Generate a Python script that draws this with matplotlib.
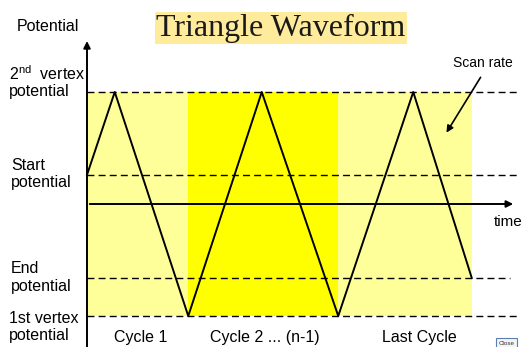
import matplotlib
matplotlib.use("Agg")
import matplotlib.pyplot as plt

plt.rcParams['font.family'] = ['Liberation Sans', 'DejaVu Sans']
plt.rcParams['mathtext.fontset'] = 'custom'
plt.rcParams['mathtext.rm'] = 'Liberation Sans'

# potential levels (2nd vertex = +1, 1st vertex = -1)
levels = {'vertex2': 1.0, 'start': 0.26, 'end': -0.66, 'vertex1': -1.0}

# triangle wave corners (time, potential)
wave_t = [0, 0.37, 1.35, 2.33, 3.35, 4.35, 5.13]
wave_v = [0.26, 1.0, -1.0, 1.0, -1.0, 1.0, -0.66]

# cycle bands
cycle_edges = [0, 1.35, 3.35, 5.13]
cycle_colors = ['#FFFF99', '#FFFF00', '#FFFF99']
cycle_names = ['Cycle 1', 'Cycle 2 ... (n-1)', 'Last Cycle']
cycle_label_t = [0.71, 2.37, 4.43]

# dashed line extents
dash_end = {'vertex2': 5.75, 'start': 5.73, 'end': 5.64, 'vertex1': 5.75}

fig = plt.figure(figsize=(5.25, 3.47), dpi=100)
ax = fig.add_axes([0, 0, 1, 1])
ax.set_xlim(-87/75, (525-87)/75)
ax.set_ylim(-(347-204)/112, 204/112)
ax.axis('off')

# shaded cycles
for i in range(3):
    ax.fill_between([cycle_edges[i], cycle_edges[i+1]], levels['vertex1'], levels['vertex2'],
                    color=cycle_colors[i], lw=0, zorder=0)

# dashed reference levels
for k, v in levels.items():
    ax.plot([0, dash_end[k]], [v, v], color='black', lw=1.0, dashes=(5, 3), zorder=2)

# waveform
ax.plot(wave_t, wave_v, color='black', lw=1.4, zorder=3)

# axes with arrows
ax.annotate('', xy=(0, 1.48), xytext=(0, -1.3),
            arrowprops=dict(arrowstyle='-|>', color='black', lw=1.4, mutation_scale=10), zorder=4)
ax.annotate('', xy=(5.72, 0), xytext=(0, 0),
            arrowprops=dict(arrowstyle='-|>', color='black', lw=1.4, mutation_scale=10), zorder=4)

# labels
fs = 11.5
ax.text(-0.52, 1.589, 'Potential', fontsize=fs, ha='center', va='center')
ax.text(-1.04, 1.09, '2$^{\\mathrm{nd}}$  vertex\npotential', fontsize=fs, ha='left', va='center',
        linespacing=1.12)
ax.text(-1.013, 0.268, 'Start\npotential', fontsize=fs, ha='left', va='center')
ax.text(-1.013, -0.656, 'End\npotential', fontsize=fs, ha='left', va='center')
ax.text(-1.04, -1.10, '1st vertex\npotential', fontsize=fs, ha='left', va='center')
for name, t in zip(cycle_names, cycle_label_t):
    ax.text(t, -1.196, name, fontsize=fs, ha='center', va='center')
ax.text(5.43, -0.16, 'time', fontsize=11, ha='left', va='center')
ax.text(5.28, 1.259, 'Scan rate', fontsize=10, ha='center', va='center')
ax.annotate('', xy=(4.773, 0.616), xytext=(5.267, 1.152),
            arrowprops=dict(arrowstyle='-|>', color='black', lw=1.2, mutation_scale=10), zorder=4)

ax.text(2.587, 1.571, 'Triangle Waveform', fontsize=23, family='Liberation Serif',
        ha='center', va='center', color='#1a1a1a',
        bbox=dict(boxstyle='square,pad=0.05', fc='#FFEB9C', ec='none'))

ax.text(5.59, -1.245, 'Close', fontsize=4.5, ha='center', va='center', color='#333333',
        bbox=dict(boxstyle='square,pad=0.4', fc='#F4F4F4', ec='#5B7FB5', lw=0.8))

fig.savefig('out.png', dpi=100)
